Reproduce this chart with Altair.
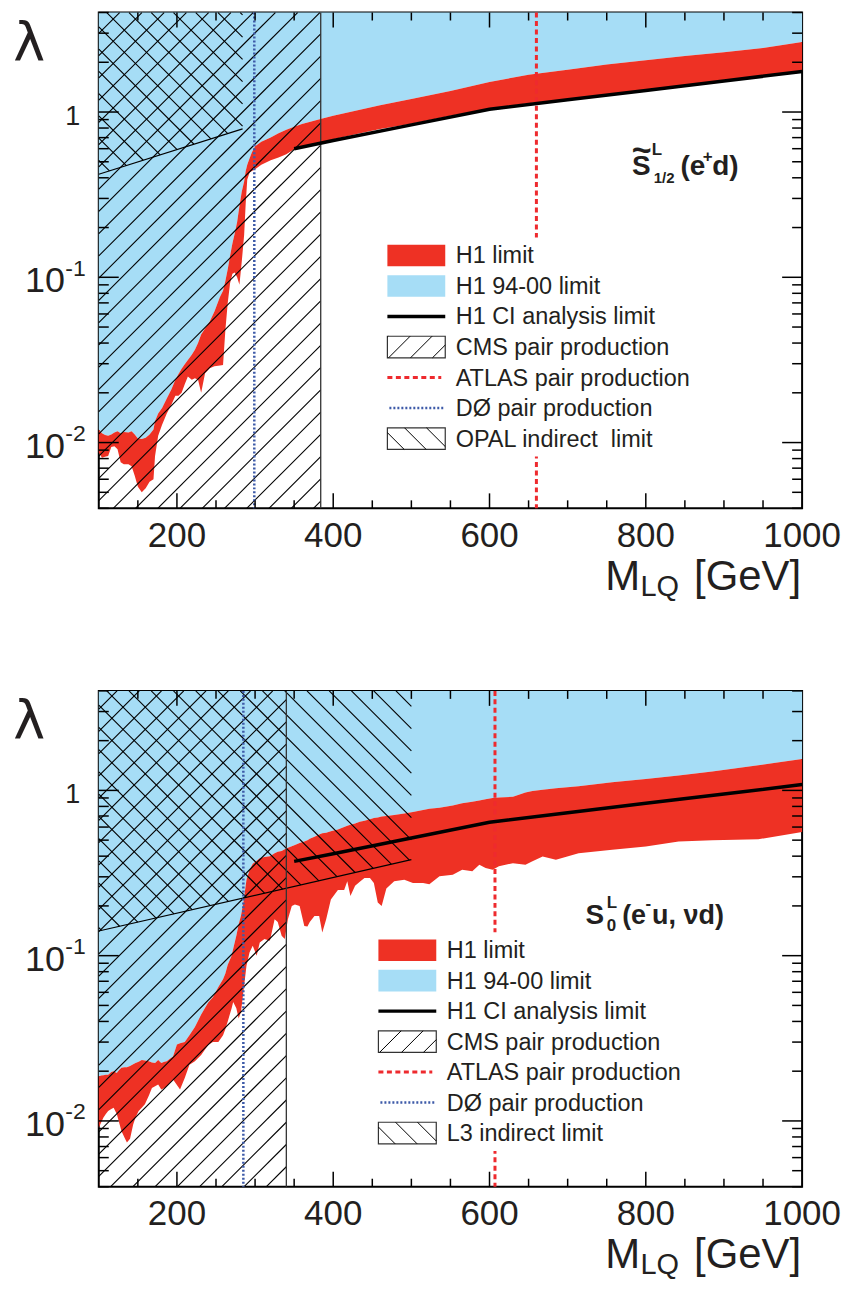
import numpy as np
import pandas as pd
import altair as alt

# ---------------- values ----------------
# upper panel: S~1/2 L (e+ d)
top_mass = [100, 104, 108, 112, 116, 120, 124, 128, 132, 138,
            142, 146, 150, 155, 160, 165, 170, 172, 176, 181,
            187, 193, 198, 202, 206, 210, 214, 219, 223, 227,
            231, 236, 242, 248, 255, 259, 262, 265, 268, 271,
            274, 277, 280, 283, 286, 288, 290, 293, 296, 300,
            308, 320, 330, 340, 350, 360, 372, 385, 400, 430,
            460, 500, 550, 600, 650, 700, 750, 800, 850, 900,
            950, 1000]
top_lower = [0.0087, 0.0081, 0.0082, 0.0083, 0.0094, 0.0095, 0.0091, 0.0076, 0.0074, 0.0074,
             0.0072, 0.0063, 0.0054, 0.0050, 0.0053, 0.0058, 0.0060, 0.0083, 0.0110, 0.0128,
             0.0150, 0.0170, 0.0192, 0.0192, 0.0200, 0.0225, 0.0251, 0.0240, 0.0245, 0.0240,
             0.0200, 0.0263, 0.0282, 0.0290, 0.0293, 0.0295, 0.0480, 0.0700, 0.0920, 0.1050,
             0.1070, 0.1000, 0.0900, 0.1250, 0.1800, 0.2800, 0.3900, 0.4300, 0.4400, 0.4500,
             0.4800, 0.5100, 0.5300, 0.5550, 0.5950, 0.6150, 0.6350, 0.6550, 0.6850, 0.7350,
             0.7900, 0.8500, 0.9500, 1.0500, 1.1300, 1.2000, 1.2800, 1.3700, 1.4500, 1.5600,
             1.6500, 1.7800]
top_upper = [0.0120, 0.0114, 0.0111, 0.0110, 0.0112, 0.0115, 0.0117, 0.0114, 0.0116, 0.0115,
             0.0117, 0.0112, 0.0106, 0.0105, 0.0107, 0.0112, 0.0120, 0.0135, 0.0150, 0.0162,
             0.0185, 0.0210, 0.0240, 0.0260, 0.0280, 0.0298, 0.0316, 0.0340, 0.0365, 0.0400,
             0.0450, 0.0490, 0.0540, 0.0620, 0.0760, 0.0830, 0.0950, 0.1120, 0.1350, 0.1600,
             0.1850, 0.2150, 0.2700, 0.3300, 0.3800, 0.4400, 0.4800, 0.5250, 0.5700, 0.6200,
             0.6600, 0.7000, 0.7450, 0.7800, 0.8150, 0.8450, 0.8750, 0.9100, 0.9500, 1.0200,
             1.1000, 1.2000, 1.3400, 1.5200, 1.6800, 1.8000, 1.9400, 2.0600, 2.1800, 2.3000,
             2.4400, 2.6500]
top_ci_mass = [350, 400, 500, 600, 700, 800, 900, 1000]
top_ci = [0.600, 0.673, 0.836, 1.040, 1.185, 1.350, 1.540, 1.760]
top_atlas = 660
top_d0 = 299
top_cms = 384
top_indirect_mass = [100, 284]
top_indirect = [0.42, 0.79]

# lower panel: S0 L (e- u, nu d)
bot_mass = [100, 103, 106, 109, 112, 116, 119, 123, 126, 129,
            133, 136, 140, 144, 147, 151, 155, 159, 164, 168,
            172, 176, 180, 184, 187, 191, 195, 200, 204, 210,
            216, 223, 231, 240, 246, 253, 259, 262, 265, 270,
            272, 276, 279, 282, 285, 289, 293, 297, 302, 306,
            312, 319, 325, 329, 334, 338, 342, 347, 351, 357,
            363, 367, 370, 376, 382, 386, 391, 397, 406, 414,
            418, 422, 428, 434, 440, 447, 452, 457, 462, 468,
            478, 491, 502, 515, 523, 536, 553, 565, 578, 587,
            595, 604, 612, 630, 646, 655, 668, 685, 714, 757,
            800, 842, 885, 944, 1000]
bot_lower = [0.0091, 0.0098, 0.0105, 0.0110, 0.0115, 0.0118, 0.0120, 0.0110, 0.0098, 0.0087,
             0.0079, 0.0074, 0.0078, 0.0095, 0.0105, 0.0115, 0.0120, 0.0126, 0.0142, 0.0158,
             0.0162, 0.0166, 0.0155, 0.0158, 0.0162, 0.0170, 0.0178, 0.0165, 0.0155, 0.0182,
             0.0219, 0.0230, 0.0251, 0.0288, 0.0300, 0.0300, 0.0330, 0.0360, 0.0400, 0.0480,
             0.0525, 0.0480, 0.0417, 0.0457, 0.0600, 0.0870, 0.1050, 0.1150, 0.1000, 0.1200,
             0.1260, 0.1230, 0.1660, 0.1600, 0.1320, 0.1260, 0.1660, 0.2000, 0.2040, 0.2000,
             0.1510, 0.1500, 0.1600, 0.1740, 0.1740, 0.1380, 0.1660, 0.2190, 0.2500, 0.2500,
             0.2820, 0.2300, 0.2650, 0.2800, 0.2950, 0.2950, 0.2750, 0.2100, 0.2000, 0.2550,
             0.2820, 0.2880, 0.2750, 0.2750, 0.2700, 0.3020, 0.3090, 0.3310, 0.3240, 0.3550,
             0.3390, 0.3310, 0.3470, 0.3630, 0.3550, 0.3720, 0.3980, 0.3800, 0.4170, 0.4370,
             0.4570, 0.4900, 0.5000, 0.5060, 0.5600]
bot_upper = [0.0186, 0.0188, 0.0189, 0.0190, 0.0190, 0.0198, 0.0200, 0.0195, 0.0203, 0.0210,
             0.0211, 0.0211, 0.0215, 0.0220, 0.0224, 0.0228, 0.0234, 0.0232, 0.0230, 0.0226,
             0.0224, 0.0234, 0.0224, 0.0228, 0.0230, 0.0238, 0.0245, 0.0290, 0.0295, 0.0300,
             0.0330, 0.0370, 0.0440, 0.0520, 0.0560, 0.0646, 0.0720, 0.0780, 0.0880, 0.1000,
             0.1100, 0.1320, 0.1550, 0.1750, 0.2100, 0.2880, 0.3310, 0.3600, 0.3750, 0.3890,
             0.3950, 0.4000, 0.4170, 0.4250, 0.4300, 0.4400, 0.4500, 0.4600, 0.4680, 0.4800,
             0.4900, 0.5000, 0.5100, 0.5250, 0.5400, 0.5500, 0.5550, 0.5650, 0.5800, 0.6000,
             0.6100, 0.6200, 0.6300, 0.6450, 0.6550, 0.6700, 0.6800, 0.6850, 0.6950, 0.7000,
             0.7100, 0.7250, 0.7400, 0.7600, 0.7750, 0.7850, 0.8100, 0.8350, 0.8550, 0.8700,
             0.8850, 0.9000, 0.9050, 0.9150, 0.9700, 0.9900, 1.0100, 1.0300, 1.0600, 1.1200,
             1.1700, 1.2300, 1.3000, 1.4200, 1.5500]
bot_ci_mass = [350, 400, 500, 600, 700, 800, 900, 1000]
bot_ci = [0.372, 0.414, 0.515, 0.641, 0.733, 0.835, 0.951, 1.085]
bot_atlas = 607
bot_d0 = 285
bot_cms = 340
bot_indirect_mass = [100, 500]
bot_indirect = [0.141, 0.381]

legend_top = ["H1 limit", "H1 94-00 limit", "H1 CI analysis limit", "CMS pair production",
              "ATLAS pair production", "D\u00d8 pair production", "OPAL indirect\u00a0 limit"]
legend_bot = ["H1 limit", "H1 94-00 limit", "H1 CI analysis limit", "CMS pair production",
              "ATLAS pair production", "D\u00d8 pair production", "L3 indirect limit"]

x_labels = [200, 400, 600, 800, 1000]
x_minor = [150, 250, 300, 350, 450, 500, 550, 650, 700, 750, 850, 900, 950]
y_major = [0.01, 0.1, 1.0]
y_minor = [0.004, 0.005, 0.006, 0.007, 0.008, 0.009,
           0.02, 0.03, 0.04, 0.05, 0.06, 0.07, 0.08, 0.09,
           0.2, 0.3, 0.4, 0.5, 0.6, 0.7, 0.8, 0.9, 2.0, 3.0, 4.0]

# ---------------- styling ----------------
RED = "#ee3124"
BLUE = "#a6ddf6"
ATLAS_RED = "#ee2a2e"
D0_BLUE = "#3d5aa8"
INK = "#231f20"
FONT = "Liberation Sans"

W, H = 705, 497
XD = (100.0, 1000.0)
YD = (0.004, 4.0)
LMAX, LMIN = np.log10(YD[1]), np.log10(YD[0])


def ix(p):
    return XD[0] + p / W * (XD[1] - XD[0])


def iy(p):
    return 10 ** (LMAX - p / H * (LMAX - LMIN))


def sx(v):
    return (v - XD[0]) / (XD[1] - XD[0]) * W


def sy(v):
    return H * (LMAX - np.log10(v)) / (LMAX - LMIN)


XS = alt.Scale(domain=list(XD), nice=False, zero=False)
YS = alt.Scale(type="log", domain=list(YD), nice=False)


def X(f):
    return alt.X(f, type="quantitative", scale=XS, axis=None)


def Y(f):
    return alt.Y(f, type="quantitative", scale=YS, axis=None)


def hatch(poly, kind, spacing, phase=0.0):
    """45-degree hatch lines (in pixel space) clipped to a convex polygon."""
    poly = np.array(poly, float)
    if kind == "/":
        cv = poly[:, 0] + poly[:, 1]
        D = np.array([1.0, -1.0])
    else:
        cv = poly[:, 0] - poly[:, 1]
        D = np.array([1.0, 1.0])
    segs = []
    k0 = int(np.ceil((cv.min() - phase) / spacing))
    k1 = int(np.floor((cv.max() - phase) / spacing))
    n = len(poly)
    for k in range(k0, k1 + 1):
        c = phase + k * spacing
        A = np.array([0.0, c]) if kind == "/" else np.array([0.0, -c])
        ts = []
        for i in range(n):
            p1, p2 = poly[i], poly[(i + 1) % n]
            E = p2 - p1
            det = -D[0] * E[1] + E[0] * D[1]
            if abs(det) < 1e-12:
                continue
            r = p1 - A
            t = (-r[0] * E[1] + E[0] * r[1]) / det
            s = (D[0] * r[1] - D[1] * r[0]) / det
            if -1e-9 <= s <= 1 + 1e-9:
                ts.append(t)
        if len(ts) >= 2:
            t0, t1 = min(ts), max(ts)
            if t1 - t0 > 0.8:
                P0, P1 = A + t0 * D, A + t1 * D
                segs.append((P0[0], P0[1], P1[0], P1[1]))
    return segs


def rules_px(segs, **kw):
    df = pd.DataFrame({"xa": [ix(s[0]) for s in segs], "ya": [iy(s[1]) for s in segs],
                       "xb": [ix(s[2]) for s in segs], "yb": [iy(s[3]) for s in segs]})
    return alt.Chart(df).mark_rule(**kw).encode(x=X("xa"), y=Y("ya"), x2="xb:Q", y2="yb:Q")


def rect_px(x0, y0, x1, y1, **kw):
    df = pd.DataFrame({"xa": [ix(x0)], "xb": [ix(x1)], "ya": [iy(y0)], "yb": [iy(y1)]})
    return alt.Chart(df).mark_rect(**kw).encode(x=X("xa"), x2="xb:Q", y=Y("ya"), y2="yb:Q")


def text_px(s, px, py, size, align="left", bold=False, font=FONT):
    df = pd.DataFrame({"x": [ix(px)], "y": [iy(py)], "t": [s]})
    return alt.Chart(df).mark_text(align=align, baseline="alphabetic", fontSize=size, font=font,
                                   fontWeight="bold" if bold else "normal", color=INK).encode(
        x=X("x"), y=Y("y"), text="t:N")


def panel(mass, lower, upper, ci_m, ci_v, atlas, d0, cms, ind_m, ind_v,
          labels, leg_x0, leg_y0, leg_dy, text_x, tag, cms_phase):
    layers = []
    band = pd.DataFrame({"m": mass, "lo": lower, "hi": upper, "top": [YD[1]] * len(mass)})
    layers.append(alt.Chart(band).mark_area(color=BLUE).encode(x=X("m"), y=Y("hi"), y2="top:Q"))
    layers.append(alt.Chart(band).mark_area(color=RED).encode(x=X("m"), y=Y("lo"), y2="hi:Q"))

    cms_poly = [(0, 0), (sx(cms), 0), (sx(cms), H), (0, H)]
    ind_poly = [(0, sy(ind_v[0])), (sx(ind_m[1]), sy(ind_v[1])), (sx(ind_m[1]), 0), (0, 0)]
    layers.append(rules_px(hatch(cms_poly, "/", 22.3, cms_phase), color="black", strokeWidth=1.1))
    layers.append(rules_px(hatch(ind_poly, "\\", 22.3, 8.0), color="black", strokeWidth=1.1))
    ind_df = pd.DataFrame({"xa": [ind_m[0]], "ya": [ind_v[0]], "xb": [ind_m[1]], "yb": [ind_v[1]]})
    layers.append(alt.Chart(ind_df).mark_rule(color="black", strokeWidth=1.2).encode(
        x=X("xa"), y=Y("ya"), x2="xb:Q", y2="yb:Q"))
    layers.append(alt.Chart(pd.DataFrame({"m": [cms]})).mark_rule(color="#333333", strokeWidth=1.3).encode(x=X("m")))
    layers.append(alt.Chart(pd.DataFrame({"m": [d0]})).mark_rule(
        color=D0_BLUE, strokeWidth=2.5, strokeDash=[2, 2]).encode(x=X("m")))
    layers.append(alt.Chart(pd.DataFrame({"m": [atlas]})).mark_rule(
        color=ATLAS_RED, strokeWidth=3, strokeDash=[5, 3.5]).encode(x=X("m")))
    layers.append(alt.Chart(pd.DataFrame({"m": ci_m, "v": ci_v})).mark_line(
        color="black", strokeWidth=3.5).encode(x=X("m"), y=Y("v")))

    # legend
    rows = [leg_y0 + i * leg_dy for i in range(7)]
    x0, x1, hh = leg_x0, leg_x0 + 58, 10.8
    layers.append(rect_px(x0 - 6, rows[0] - 18, x0 + 330, rows[6] + 18, fill="white"))
    layers.append(rect_px(x0, rows[0] - hh, x1, rows[0] + hh, fill=RED))
    layers.append(rect_px(x0, rows[1] - hh, x1, rows[1] + hh, fill=BLUE))
    for r in (rows[3], rows[6]):
        layers.append(rect_px(x0, r - hh, x1, r + hh, fill="white", stroke="#333333", strokeWidth=1.2))
    b3 = [(x0, rows[3] - hh), (x1, rows[3] - hh), (x1, rows[3] + hh), (x0, rows[3] + hh)]
    b6 = [(x0, rows[6] - hh), (x1, rows[6] - hh), (x1, rows[6] + hh), (x0, rows[6] + hh)]
    layers.append(rules_px(hatch(b3, "/", 22.0, (x0 + rows[3]) + 12), color="black", strokeWidth=1))
    layers.append(rules_px(hatch(b6, "\\", 22.0, (x0 - rows[6]) + 6), color="black", strokeWidth=1))
    layers.append(rules_px([(x0, rows[2], x1, rows[2])], color="black", strokeWidth=3.5))
    layers.append(rules_px([(x0, rows[4], x1 - 4, rows[4])], color=ATLAS_RED, strokeWidth=3, strokeDash=[5, 3.5]))
    layers.append(rules_px([(x0 + 2, rows[5], x1 - 2, rows[5])], color=D0_BLUE, strokeWidth=2.5, strokeDash=[2, 2]))
    leg_df = pd.DataFrame({"x": [ix(text_x)] * 7, "y": [iy(r) for r in rows], "t": labels})
    layers.append(alt.Chart(leg_df).mark_text(align="left", baseline="middle", fontSize=23.5, font=FONT,
                                              color=INK, dy=1).encode(x=X("x"), y=Y("y"), text="t:N"))

    # ticks on all four sides
    xt = []
    for v in x_labels[:-1]:
        xt += [(v, iy(H), iy(H - 15)), (v, iy(0), iy(15))]
    for v in x_minor:
        xt += [(v, iy(H), iy(H - 8)), (v, iy(0), iy(8))]
    xt_df = pd.DataFrame(xt, columns=["m", "ya", "yb"])
    layers.append(alt.Chart(xt_df).mark_rule(color="black", strokeWidth=1.5).encode(
        x=X("m"), y=Y("ya"), y2="yb:Q"))
    yt = []
    for v in y_major:
        yt += [(v, ix(0), ix(20)), (v, ix(W), ix(W - 20))]
    for v in y_minor:
        yt += [(v, ix(0), ix(10)), (v, ix(W), ix(W - 10))]
    yt_df = pd.DataFrame(yt, columns=["v", "xa", "xb"])
    layers.append(alt.Chart(yt_df).mark_rule(color="black", strokeWidth=1.5).encode(
        y=Y("v"), x=X("xa"), x2="xb:Q"))

    # tick labels
    xl_df = pd.DataFrame({"m": x_labels, "t": [str(v) for v in x_labels]})
    layers.append(alt.Chart(xl_df).mark_text(fontSize=35, font=FONT, color=INK, align="center",
                                             baseline="alphabetic").encode(
        x=X("m"), y=alt.value(H + 38.3), text="t:N"))
    ten_df = pd.DataFrame({"v": [0.1, 0.01], "t": ["10", "10"], "e": ["-1", "-2"]})
    layers.append(alt.Chart(ten_df).mark_text(fontSize=36, font=FONT, color=INK, align="right",
                                              baseline="middle", dy=4).encode(
        y=Y("v"), x=alt.value(-34), text="t:N"))
    layers.append(alt.Chart(ten_df).mark_text(fontSize=23, font=FONT, color=INK, align="left",
                                              baseline="middle", dy=-8.5).encode(
        y=Y("v"), x=alt.value(-33.5), text="e:N"))
    layers.append(alt.Chart(pd.DataFrame({"v": [1.0], "t": ["1"]})).mark_text(
        fontSize=27, font=FONT, color=INK, align="right", baseline="middle", dy=5).encode(
        y=Y("v"), x=alt.value(-18.5), text="t:N"))

    # axis titles
    layers.append(text_px("\u03bb", -85.7, 48.5, 54, font="DejaVu Sans"))
    layers.append(text_px("M", 507.6, H + 81.7, 42))
    layers.append(text_px("LQ", 543, H + 88, 29))
    layers.append(text_px("[GeV]", 704, H + 81.7, 42, align="right"))

    for (s, px, py, size, align) in tag:
        layers.append(text_px(s, px, py, size, align=align, bold=True))

    return alt.layer(*layers).properties(width=W, height=H)


tag_top = [("S", 534.6, 162.7, 28, "left"),
           ("~", 544.3, 149.3, 34, "center"),
           ("L", 554.3, 142.7, 17, "left"),
           ("1/2", 556.3, 171.0, 15, "left"),
           ("(e", 583.0, 162.7, 28, "left"),
           ("+", 605.5, 149.4, 17, "left"),
           ("d)", 615.0, 162.7, 28, "left")]
tag_bot = [("S", 488.0, 234.0, 28, "left"),
           ("L", 509.3, 217.4, 17, "left"),
           ("0", 509.3, 240.7, 17, "left"),
           ("(e", 524.6, 234.0, 27, "left"),
           ("-", 548.0, 218.2, 17, "left"),
           ("u, \u03bdd)", 554.6, 234.0, 27, "left")]

top = panel(top_mass, top_lower, top_upper, top_ci_mass, top_ci, top_atlas, top_d0, top_cms,
            top_indirect_mass, top_indirect, legend_top, 289.3, 243.5, 30.6, 357.8, tag_top, 20.9)
bot = panel(bot_mass, bot_lower, bot_upper, bot_ci_mass, bot_ci, bot_atlas, bot_d0, bot_cms,
            bot_indirect_mass, bot_indirect, legend_bot, 280.3, 259.9, 30.55, 348.8, tag_bot, 18.3)

chart = alt.vconcat(top, bot, spacing=183, bounds="flush").properties(
    padding={"left": 4, "top": 0, "right": 0, "bottom": 0}
).configure_view(stroke="black", strokeWidth=2)

chart.save("out.html", embed_options={"renderer": "svg", "actions": False})
